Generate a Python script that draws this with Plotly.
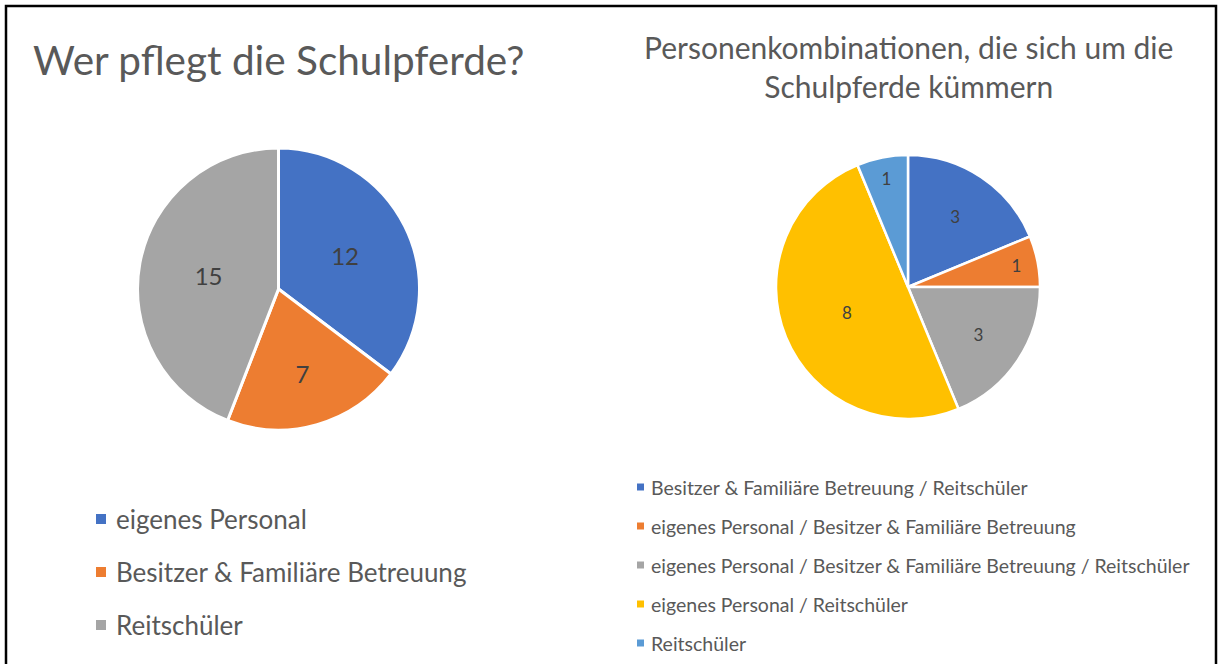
import plotly.graph_objects as go

W, H = 1219, 664

# Daten
links_labels = ['eigenes Personal', 'Besitzer & Familiäre Betreuung', 'Reitschüler']
links_werte = [12, 7, 15]
links_farben = ['#4472C4', '#ED7D31', '#A5A5A5']

rechts_labels = [
    'Besitzer & Familiäre Betreuung / Reitschüler',
    'eigenes Personal / Besitzer & Familiäre Betreuung',
    'eigenes Personal / Besitzer & Familiäre Betreuung / Reitschüler',
    'eigenes Personal / Reitschüler',
    'Reitschüler',
]
rechts_werte = [3, 1, 3, 8, 1]
rechts_farben = ['#4472C4', '#ED7D31', '#A5A5A5', '#FFC000', '#5B9BD5']

FONT = 'Lato'
GRAU = '#595959'


def px(x):
    return x / W


def py(y):
    return 1 - y / H


fig = go.Figure()

fig.add_trace(go.Pie(
    labels=links_labels, values=links_werte, sort=False,
    direction='clockwise', rotation=0,
    marker=dict(colors=links_farben, line=dict(color='white', width=3)),
    textinfo='value', textposition='inside', insidetextorientation='horizontal',
    textfont=dict(family=FONT, size=24, color='#404040'),
    domain=dict(x=[px(137), px(420)], y=[py(430), py(148)]),
    showlegend=False,
))

fig.add_trace(go.Pie(
    labels=rechts_labels, values=rechts_werte, sort=False,
    direction='clockwise', rotation=0,
    marker=dict(colors=rechts_farben, line=dict(color='white', width=2.5)),
    textinfo='value', textposition='inside', insidetextorientation='horizontal',
    textfont=dict(family=FONT, size=17, color='#404040'),
    domain=dict(x=[px(776), px(1040)], y=[py(419), py(155)]),
    showlegend=False,
))

annotations = [
    dict(text='Wer pflegt die Schulpferde?', x=px(31), y=py(59), xanchor='left', yanchor='middle',
         font=dict(family=FONT, size=40.5, color=GRAU)),
    dict(text='Personenkombinationen, die sich um die<br>Schulpferde kümmern', x=px(908), y=py(66),
         xanchor='center', yanchor='middle', align='center',
         font=dict(family=FONT, size=30, color=GRAU)),
]
shapes = [
    dict(type='rect', xref='paper', yref='paper', x0=px(6), x1=px(1216), y0=-0.05, y1=py(6),
         line=dict(color='black', width=2.5)),
]

# Legende links
for i, (lab, col) in enumerate(zip(links_labels, links_farben)):
    yc = 519 + i * 53
    shapes.append(dict(type='rect', xref='paper', yref='paper', x0=px(96), x1=px(106),
                       y0=py(yc + 5), y1=py(yc - 5), fillcolor=col, line=dict(width=0)))
    annotations.append(dict(text=lab, x=px(114), y=py(yc), xanchor='left', yanchor='middle',
                            font=dict(family=FONT, size=26, color=GRAU)))

# Legende rechts
for i, (lab, col) in enumerate(zip(rechts_labels, rechts_farben)):
    yc = 487 + i * 39
    shapes.append(dict(type='rect', xref='paper', yref='paper', x0=px(637), x1=px(644),
                       y0=py(yc + 3.5), y1=py(yc - 3.5), fillcolor=col, line=dict(width=0)))
    annotations.append(dict(text=lab, x=px(649), y=py(yc), xanchor='left', yanchor='middle',
                            font=dict(family=FONT, size=19.5, color=GRAU)))

for a in annotations:
    a.update(xref='paper', yref='paper', showarrow=False)

fig.update_layout(
    width=W, height=H,
    margin=dict(l=0, r=0, t=0, b=0),
    paper_bgcolor='white', plot_bgcolor='white',
    annotations=annotations, shapes=shapes,
)

fig.write_html('out.html', config={'displayModeBar': False},
               post_script="document.body.style.margin='0';")
